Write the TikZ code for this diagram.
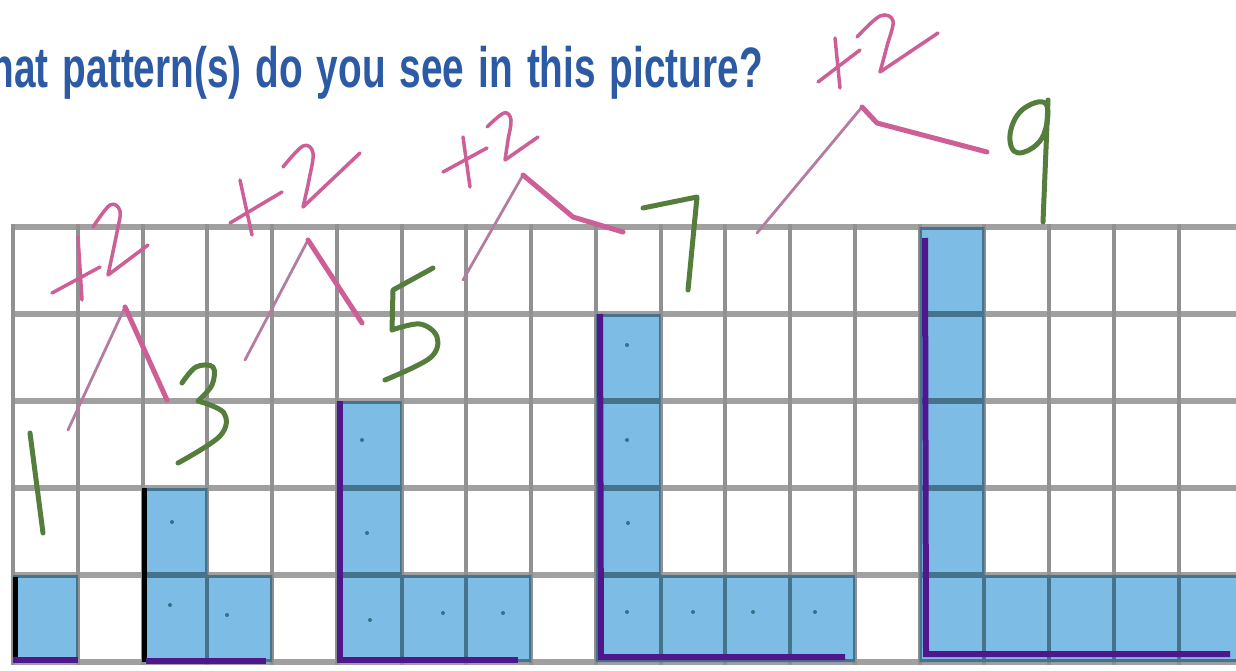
\documentclass[tikz,border=0pt]{standalone}
\usepackage{fontspec}
\usepackage{graphicx}
\newfontfamily\titlefont[WordSpace=1.3]{Liberation Sans}
\definecolor{titleblue}{RGB}{44,90,165}
\definecolor{gridgray}{RGB}{160,160,160}
\definecolor{gridvgray}{RGB}{145,145,145}
\definecolor{gridsteel}{RGB}{70,115,140}
\definecolor{cellblue}{RGB}{125,188,228}
\definecolor{edgepurple}{RGB}{80,22,140}
\definecolor{penpink}{RGB}{205,95,150}
\definecolor{penpinklight}{RGB}{180,125,160}
\definecolor{pengreen}{RGB}{85,125,60}
\definecolor{dotc}{RGB}{60,110,135}
\tikzset{
  hline/.style={line width=6pt},
  vline/.style={line width=4pt},
  edgeline/.style={edgepurple,line width=6pt},
  edgeblack/.style={black,line width=5pt},
  pluspen/.style={penpink,line width=3.5pt,line cap=round,line join=round},
  hatthin/.style={penpinklight,line width=2.8pt,line cap=round,line join=round},
  hatthick/.style={penpink,line width=5pt,line cap=round,line join=round},
  greenpen/.style={pengreen,line width=5pt,line cap=round,line join=round},
}
\def\bluepath{(13,575) rectangle (77.75,662)
  (142.5,488) rectangle (207.25,662) (207.25,575) rectangle (272,662)
  (336.75,401) rectangle (401.5,662) (401.5,575) rectangle (531,662)
  (595.75,314) rectangle (660.5,662) (660.5,575) rectangle (854.75,662)
  (919.5,227) rectangle (984.25,662) (984.25,575) rectangle (1240,662)}
\begin{document}
\begin{tikzpicture}[x=1pt,y=-1pt]
\path[use as bounding box] (0,0) rectangle (1236,671);
\clip (0,0) rectangle (1236,671);
\fill[white] (0,0) rectangle (1236,671);
% title
\node[anchor=base east,inner sep=0pt,text=titleblue] (title) at (763,88)
  {\scalebox{0.68}[1]{\titlefont\bfseries\fontsize{57}{60}\selectfont What pattern(s) do you see in this picture?}};
% blue cells
\fill[cellblue] \bluepath;
% grid
\foreach \r in {0,...,5} \draw[hline,gridgray] (13,{227+87*\r}) -- (1240,{227+87*\r});
\foreach \k in {0,...,19} \draw[vline,gridvgray] ({13+64.75*\k},224) -- ({13+64.75*\k},665);
\begin{scope}
  \clip \bluepath;
  \foreach \r in {0,...,5} \draw[hline,gridsteel] (13,{227+87*\r}) -- (1240,{227+87*\r});
  \foreach \k in {0,...,19} \draw[vline,gridsteel] ({13+64.75*\k},224) -- ({13+64.75*\k},665);
\end{scope}
% dots
\foreach \p in {(172,522),(170,605),(227,615),(362,440),(367,533),(370,620),(443,613),(503,613),
  (627,345),(627,440),(628,523),(627,612),(693,612),(753,612),(815,612)}
  \fill[dotc] \p circle (2);
% outline strokes
\draw[edgeblack] (15.5,577) -- (15.5,662);
\draw[edgeline] (13,660) -- (78,660);
\draw[edgeblack] (144,488) -- (144,662);
\draw[edgeline] (146,661) -- (266,661);
\draw[edgeline] (340,401) -- (340,660) -- (518,660);
\draw[edgeline] (600,314) -- (601,657) -- (845,657);
\draw[edgeline] (925,238) -- (926,654) -- (1230,654);
% handwriting: +2 and hats
\draw[pluspen] (78,237) -- (82,300);
\draw[pluspen] (52,293) -- (100,267);
\draw[pluspen] plot[smooth,tension=0.6] coordinates {(93,227) (110,205) (120,211) (117,232) (108,275)} -- (148,245);
\draw[hatthin] (68,430) -- (125,307);
\draw[hatthick] (125,307) -- (167,400);

\draw[pluspen] (240,180) -- (252,235);
\draw[pluspen] (230,223) -- (282,192);
\draw[pluspen] plot[smooth,tension=0.6] coordinates {(283,167) (303,146) (313,153) (309,180) (303,207)} -- (360,153);
\draw[hatthin] (245,360) -- (308,240);
\draw[hatthick] (308,240) -- (362,323);

\draw[pluspen] (463,137) -- (470,187);
\draw[pluspen] (443,172) -- (487,148);
\draw[pluspen] plot[smooth,tension=0.6] coordinates {(487,127) (504,113) (511,120) (508,140) (505,160)} -- (538,137);
\draw[hatthin] (463,280) -- (523,175);
\draw[hatthick] (523,175) -- (573,217) -- (623,232);

\draw[pluspen] (835,38) -- (840,88);
\draw[pluspen] (818,82) -- (860,50);
\draw[pluspen] plot[smooth,tension=0.6] coordinates {(857,37) (880,16) (893,21) (887,46) (880,72)} -- (938,33);
\draw[hatthin] (757,233) -- (862,107);
\draw[hatthick] (862,107) -- (877,123) -- (987,152);
% handwriting: green numbers
\draw[greenpen] (30,433) -- (43,533);
\draw[greenpen] plot[smooth,tension=0.6] coordinates {(182,383) (196,367) (213,367) (212,385) (198,401)}
  plot[smooth,tension=0.6] coordinates {(198,401) (224,413) (220,436) (178,463)};
\draw[greenpen] (433,268) -- (393,290) -- (392,330)
  plot[smooth,tension=0.6] coordinates {(392,330) (420,324) (437,337) (430,358) (385,380)};
\draw[greenpen] (643,208) -- (697,197) -- (688,290);
\draw[greenpen] plot[smooth cycle,tension=0.7] coordinates {(1046,104) (1022,110) (1010,135) (1018,153) (1042,138)};
\draw[greenpen] (1048,100) -- (1043,222);
\end{tikzpicture}
\end{document}
